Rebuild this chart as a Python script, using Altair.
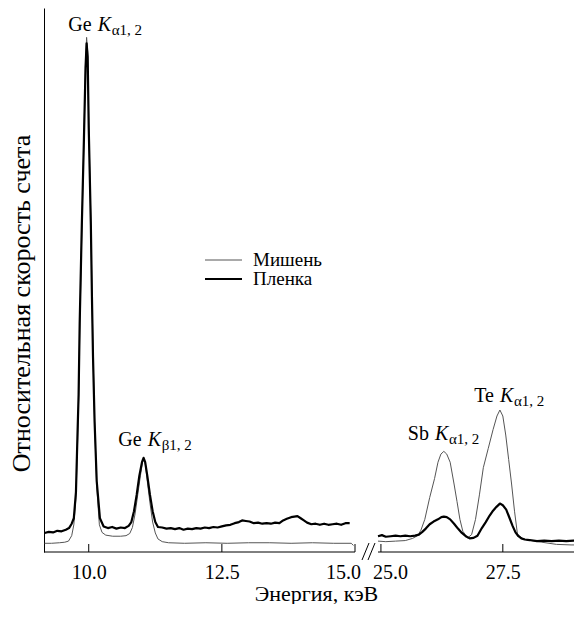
import altair as alt
import pandas as pd

FONT = "Liberation Serif, Times New Roman, DejaVu Serif, serif"
series_names = ["Мишень", "Пленка"]

# ---- Ge region ----
target_left_E = [9.17, 9.3, 9.45, 9.55, 9.62, 9.68, 9.72, 9.76, 9.79, 9.81,
                 9.83, 9.87, 9.91, 9.94, 9.96, 9.98, 10.0, 10.04, 10.06, 10.08,
                 10.11, 10.15, 10.2, 10.25, 10.32, 10.45, 10.6, 10.7, 10.77, 10.82,
                 10.87, 10.92, 10.97, 11.01, 11.03, 11.06, 11.1, 11.15, 11.2, 11.25,
                 11.3, 11.38, 11.5, 11.8, 12.2, 12.6, 13.0, 13.4, 13.8, 14.2,
                 14.6, 14.93, 14.97]
target_left_v = [1.6, 1.6, 1.7, 1.8, 2.0, 3.0, 5.0, 10, 20, 28,
                 40, 59, 76, 90, 94.6, 92, 79, 61, 48, 37,
                 24, 12, 5, 3.6, 3.1, 2.9, 2.9, 3.0, 3.4, 4.5,
                 7, 10.5, 14, 16.5, 17.2, 16.5, 13, 9, 5.5, 3.5,
                 2.4, 1.9, 1.7, 1.6, 1.7, 1.6, 1.7, 1.7, 1.6, 1.7,
                 1.6, 1.6, 1.2]

film_left_E = [9.17, 9.25, 9.33, 9.41, 9.49, 9.57, 9.63, 9.68, 9.72, 9.76,
               9.79, 9.81, 9.83, 9.87, 9.91, 9.94, 9.96, 9.98, 10.0, 10.04,
               10.06, 10.08, 10.11, 10.15, 10.21, 10.28, 10.36, 10.44, 10.52, 10.6,
               10.68, 10.75, 10.8, 10.85, 10.9, 10.95, 11.0, 11.03, 11.06, 11.1,
               11.15, 11.2, 11.25, 11.3, 11.38, 11.46, 11.54, 11.62, 11.7, 11.78,
               11.86, 11.94, 12.02, 12.1, 12.18, 12.26, 12.34, 12.42, 12.5, 12.58,
               12.66, 12.74, 12.82, 12.88, 12.95, 13.02, 13.1, 13.18, 13.26, 13.34,
               13.42, 13.5, 13.58, 13.65, 13.72, 13.8, 13.86, 13.92, 13.98, 14.04,
               14.1, 14.18, 14.26, 14.34, 14.42, 14.5, 14.58, 14.66, 14.74, 14.82,
               14.9]
film_left_v = [3.5, 3.7, 3.6, 3.9, 3.8, 4.1, 4.4, 5.2, 6.2, 11,
               22, 29, 42, 60, 76, 89, 93.5, 91, 78, 60,
               47, 36, 24, 13, 6.2, 4.7, 4.4, 4.6, 4.3, 4.5,
               4.4, 4.8, 5.5, 7.5, 10.5, 14, 16.5, 17.3, 16.5, 14,
               10.5, 7.5, 5.5, 4.6, 4.5, 4.3, 4.4, 4.2, 4.4, 4.1,
               4.3, 4.2, 4.4, 4.3, 4.5, 4.4, 4.6, 4.5, 4.7, 4.9,
               5.0, 5.3, 5.5, 5.8, 5.7, 5.6, 5.3, 5.4, 5.2, 5.3,
               5.2, 5.4, 5.3, 5.8, 6.1, 6.4, 6.5, 6.6, 6.2, 5.8,
               5.4, 5.1, 5.2, 5.0, 5.2, 5.0, 5.1, 5.2, 5.0, 5.3,
               5.3]

# ---- Sb / Te region ----
target_right_E = [24.94, 25.1, 25.3, 25.5, 25.65, 25.75, 25.82, 25.9, 26.0, 26.1,
                  26.17, 26.23, 26.29, 26.35, 26.42, 26.5, 26.56, 26.62, 26.68, 26.78,
                  26.86, 26.94, 27.02, 27.1, 27.2, 27.3, 27.38, 27.44, 27.5, 27.56,
                  27.62, 27.68, 27.74, 27.8, 27.9, 28.0, 28.3, 28.6, 28.9, 29.2]
target_right_v = [2.0, 1.9, 2.0, 2.1, 2.5, 3.0, 4.0, 6.0, 10.0, 13.5,
                  16.5, 18.0, 18.5, 18.0, 16.5, 12.5, 9.3, 6.0, 3.8, 2.6,
                  3.2, 6.0, 10.5, 15.5, 19.0, 22.5, 25.0, 26.1, 25.0, 21.5,
                  17.0, 12.5, 7.5, 3.3, 2.5, 2.2, 1.8, 1.4, 1.3, 1.3]

film_right_E = [24.94, 25.02, 25.1, 25.2, 25.3, 25.4, 25.5, 25.6, 25.7, 25.78,
                25.85, 25.92, 26.0, 26.08, 26.17, 26.24, 26.29, 26.35, 26.42, 26.5,
                26.58, 26.66, 26.74, 26.82, 26.9, 26.98, 27.07, 27.15, 27.23, 27.3,
                27.37, 27.44, 27.5, 27.57, 27.64, 27.7, 27.76, 27.82, 27.88, 27.95,
                28.05, 28.2, 28.35, 28.5, 28.65, 28.8, 28.95, 29.1, 29.2]
film_right_v = [2.9, 3.1, 2.8, 2.9, 3.0, 2.9, 3.0, 2.9, 3.0, 3.2,
                3.7, 4.3, 5.1, 5.6, 6.0, 6.4, 6.5, 6.4, 6.0, 5.2,
                4.3, 3.5, 2.9, 2.5, 2.6, 3.0, 4.4, 5.5, 6.7, 7.6,
                8.3, 8.9, 8.6, 7.8, 6.2, 4.8, 3.6, 2.9, 2.5, 2.3,
                2.2, 2.0, 2.1, 2.0, 2.1, 2.0, 2.1, 2.0, 2.0]

tick_values = [10.0, 12.5, 15.0, 25.0, 27.5]
seg_start = [9.16, 24.94]      # the two pieces of the broken energy axis
seg_end = [15.0, 28.96]

# annotations: element, subscript, anchor energy, level
ann_elem = ["Ge", "Ge", "Sb", "Te"]
ann_sub = ["α1, 2", "β1, 2", "α1, 2", "α1, 2"]
ann_E = [10.167, 11.107, 26.108, 27.44]
ann_v = [96.9, 20.5, 21.6, 28.7]

W, H = 530, 544

rows = []
for name, es, vs in [(series_names[0], target_left_E, target_left_v),
                     (series_names[0] + "_r", target_right_E, target_right_v),
                     (series_names[1], film_left_E, film_left_v),
                     (series_names[1] + "_r", film_right_E, film_right_v)]:
    ser = name.replace("_r", "")
    for e, v in zip(es, vs):
        rows.append({"E": e, "v": v, "series": ser, "part": name})
df = pd.DataFrame(rows)
ann = pd.DataFrame({"elem": ann_elem, "sub": ann_sub, "E": ann_E, "v": ann_v})

xs = alt.Scale(domain=[seg_start[0], seg_end[0], seg_start[1], seg_end[1]],
               range=[0, 311, 334, W], nice=False, zero=False)
ys = alt.Scale(domain=[0, 100], nice=False, zero=False)
color_scale = alt.Scale(domain=series_names, range=["#555555", "#000000"])
width_scale = alt.Scale(domain=series_names, range=[1.0, 2.2])

x_axis = alt.Axis(values=tick_values, format=".1f", ticks=False, grid=False, domain=False,
                  labelPadding=10, labelFontSize=20,
                  labelOffset={"condition": [{"test": "datum.value == 15", "value": -12},
                                             {"test": "datum.value == 25", "value": 9}],
                               "value": 0},
                  title="Энергия, кэВ", titleFontSize=22, titlePadding=1, titleX=272)
y_axis = alt.Axis(ticks=False, labels=False, grid=False, title="Относительная скорость счета",
                  titleFontSize=26, titlePadding=10, titleY=295, domainColor="black")

lines = alt.Chart(df).mark_line(strokeJoin="round", clip=True).encode(
    x=alt.X("E:Q", scale=xs, axis=x_axis),
    y=alt.Y("v:Q", scale=ys, axis=y_axis),
    color=alt.Color("series:N", scale=color_scale, legend=None),
    strokeWidth=alt.StrokeWidth("series:N", scale=width_scale, legend=None),
    detail="part:N",
)

axis_segments = alt.Chart(pd.DataFrame({"a": seg_start, "b": seg_end})).mark_rule(
    color="black", strokeWidth=1).encode(
    x=alt.X("a:Q", scale=xs), x2="b:Q", y=alt.value(H))

tick_marks = alt.Chart(pd.DataFrame({"E": tick_values})).mark_rule(color="black", strokeWidth=1).encode(
    x=alt.X("E:Q", scale=xs), y=alt.value(H - 8), y2=alt.value(H))

breaks = alt.Chart(pd.DataFrame({"x1": [318, 324], "x2": [325, 331]})).mark_rule(
    color="black", strokeWidth=1).encode(
    x=alt.X("x1:Q", scale=None), x2="x2:Q", y=alt.value(H + 8), y2=alt.value(H - 9))

xe = alt.X("E:Q", scale=xs)
ye = alt.Y("v:Q", scale=ys)
t1 = alt.Chart(ann).mark_text(align="right", baseline="middle", font=FONT, fontSize=20,
                              dx=-6, color="black").encode(x=xe, y=ye, text="elem:N")
t2 = alt.Chart(ann).mark_text(align="left", baseline="middle", font=FONT, fontSize=20,
                              fontStyle="italic", color="black").encode(x=xe, y=ye, text=alt.value("K"))
t3 = alt.Chart(ann).mark_text(align="left", baseline="middle", font=FONT, fontSize=15,
                              dx=14, dy=5, color="black").encode(x=xe, y=ye, text="sub:N")

leg_t = alt.Chart(pd.DataFrame({"s": [series_names[0]]}))
leg_f = alt.Chart(pd.DataFrame({"s": [series_names[1]]}))
legend_layers = [
    leg_t.mark_rule(color="#555555", strokeWidth=1).encode(x=alt.value(161), x2=alt.value(198), y=alt.value(252)),
    leg_f.mark_rule(color="#000000", strokeWidth=2.2).encode(x=alt.value(161), x2=alt.value(198), y=alt.value(271)),
    leg_t.mark_text(align="left", baseline="middle", font=FONT, fontSize=19, color="black").encode(
        x=alt.value(209), y=alt.value(252), text="s:N"),
    leg_f.mark_text(align="left", baseline="middle", font=FONT, fontSize=19, color="black").encode(
        x=alt.value(209), y=alt.value(271), text="s:N"),
]

chart = alt.layer(lines, axis_segments, tick_marks, breaks, t1, t2, t3, *legend_layers).properties(
    width=W, height=H, padding={"left": 0, "top": 0, "right": 0, "bottom": 0}
).configure_view(stroke=None).configure_axis(
    labelFont=FONT, titleFont=FONT, labelColor="black", titleColor="black",
    titleFontWeight="normal"
)

chart.save("out.html", embed_options={"renderer": "svg", "actions": False})
